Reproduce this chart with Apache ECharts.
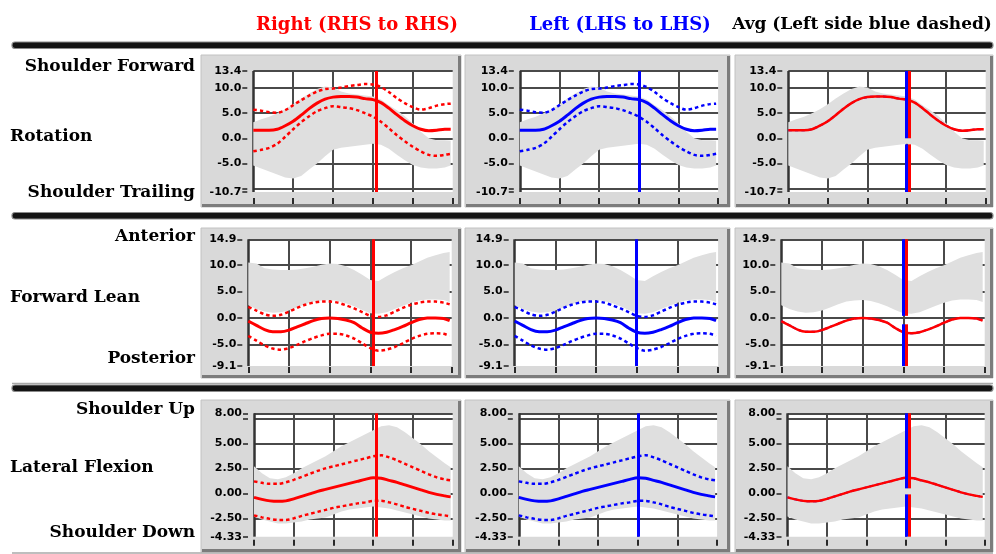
<!DOCTYPE html>
<html>
<head>
<meta charset="utf-8">
<script src="https://cdn.jsdelivr.net/npm/echarts@6/dist/echarts.min.js"></script>
<style>
html, body { margin: 0; padding: 0; background: #fff; }
#chart { width: 996px; height: 554px; }
</style>
</head>
<body>
<div id="chart"></div>
<script>
// Percent of swing cycle at which every trace is sampled
const pct = [0,4,8,12,16,20,24,28,32,36,40,44,48,52,56,60,64,68,72,76,80,84,88,92,96,99];

// Shoulder rotation (deg): mean, +/- limits, normative band
const rotMean   = [1.6,1.6,1.6,1.8,2.5,3.4,4.6,5.9,7.0,7.8,8.2,8.3,8.3,8.2,7.9,7.7,7.1,6.0,4.7,3.5,2.5,1.8,1.5,1.6,1.8,1.8];
const rotUpper  = [5.7,5.5,5.2,5.1,5.6,6.6,7.6,8.5,9.3,9.8,9.9,10.1,10.4,10.6,10.8,10.7,10.2,9.2,8.0,7.0,6.2,5.7,6.0,6.5,6.8,6.9];
const rotLower  = [-2.6,-2.3,-1.9,-1.1,0.3,1.8,3.2,4.4,5.4,6.0,6.4,6.2,6.0,5.6,5.0,4.3,3.3,2.0,0.6,-0.6,-1.7,-2.6,-3.3,-3.5,-3.3,-3.1];
const rotBandHi = [3.2,3.8,4.3,5.0,5.8,6.8,7.9,8.9,9.8,10.3,10.1,9.3,8.9,8.7,8.5,8.3,7.7,6.6,5.6,4.4,3.0,1.3,0.0,-0.4,-0.4,-0.5];
const rotBandLo = [-5.4,-6.0,-6.6,-7.2,-7.8,-8.0,-7.5,-6.2,-5.0,-3.6,-2.3,-1.9,-1.7,-1.5,-1.3,-1.1,-1.3,-2.1,-3.3,-4.4,-5.3,-5.8,-6.0,-6.0,-5.8,-5.4];
const rotLabels = [-10.7,-5,0,5,10,13.4];
const rotGrid   = [-10,-5,0,5,10];

// Forward lean (deg)
const leanMean   = [-0.6,-1.4,-2.2,-2.6,-2.6,-2.3,-1.7,-1.1,-0.5,-0.1,0.0,-0.1,-0.4,-0.9,-1.9,-2.7,-2.9,-2.7,-2.2,-1.6,-0.9,-0.3,0.0,0.0,-0.1,-0.5];
const leanUpper  = [2.1,1.4,0.7,0.4,0.6,1.2,1.9,2.5,2.9,3.1,3.1,2.9,2.4,1.8,1.1,0.4,0.2,0.5,1.2,1.9,2.5,2.9,3.1,3.1,2.9,2.6];
const leanLower  = [-3.4,-4.3,-5.2,-5.8,-6.0,-5.7,-5.1,-4.4,-3.8,-3.3,-3.0,-3.0,-3.3,-3.9,-4.8,-5.7,-6.2,-6.0,-5.5,-4.8,-4.0,-3.4,-3.0,-2.9,-3.0,-3.4];
const leanBandHi = [10.5,10.3,9.4,9.2,9.1,9.1,9.2,9.4,9.7,10.1,10.3,10.2,9.8,9.1,8.2,7.2,7.0,7.9,8.7,9.4,10.0,10.7,11.4,11.9,12.3,12.5];
const leanBandLo = [2.4,1.7,1.2,1.0,1.1,1.4,2.0,2.6,3.1,3.3,3.4,3.2,2.8,2.2,1.5,0.9,0.8,1.1,1.7,2.3,2.9,3.3,3.5,3.5,3.4,3.0];
const leanLabels = [-9.1,-5,0,5,10,14.9];
const leanGrid   = [-5,0,5,10];

// Lateral flexion (deg)
const latMean   = [-0.4,-0.6,-0.75,-0.8,-0.75,-0.55,-0.3,-0.05,0.2,0.4,0.6,0.8,1.0,1.2,1.4,1.55,1.5,1.3,1.1,0.85,0.6,0.35,0.1,-0.1,-0.25,-0.35];
const latUpper  = [1.2,1.05,0.95,0.95,1.1,1.35,1.65,1.95,2.25,2.5,2.7,2.9,3.1,3.3,3.5,3.7,3.8,3.6,3.3,2.95,2.6,2.25,1.9,1.6,1.4,1.3];
const latLower  = [-2.2,-2.4,-2.55,-2.65,-2.65,-2.5,-2.25,-2.05,-1.85,-1.65,-1.45,-1.3,-1.15,-1.0,-0.9,-0.75,-0.75,-0.9,-1.1,-1.35,-1.55,-1.75,-1.95,-2.1,-2.2,-2.3];
const latBandHi = [2.7,2.0,1.5,1.4,1.6,2.0,2.5,2.9,3.3,3.7,4.2,4.7,5.1,5.5,5.9,6.3,6.7,6.8,6.6,6.1,5.5,4.9,4.2,3.6,3.0,2.6];
const latBandLo = [-2.3,-2.6,-2.8,-3.0,-3.0,-2.9,-2.8,-2.6,-2.5,-2.4,-2.1,-1.8,-1.6,-1.5,-1.4,-1.3,-1.4,-1.5,-1.7,-1.9,-2.1,-2.3,-2.5,-2.6,-2.7,-2.7];
const latLabels = [-4.33,-2.5,0,2.5,5,8];
const latGrid   = [-2.5,0,2.5,5,7.5];

// Impact events (% of cycle) for each side
const eventRight = 61.5;
const eventLeft = 60;
// Break in the averaged event markers [from, to]
const rotAvgGap  = [-1.2, 0.0];
const leanAvgGap = [-1.2, 0.4];
const latAvgGap  = [-0.1, 0.5];

const xTicks = [0,20,40,60,80,100];
const xGrid  = [20,40,60,80];

const headers = ['Right (RHS to RHS)', 'Left (LHS to LHS)', 'Avg (Left side blue dashed)'];
const headerColors = ['#ff0000', '#0000ff', '#000000'];
const topLabels = ['Shoulder Forward', 'Anterior', 'Shoulder Up'];
const midLabels = ['Rotation', 'Forward Lean', 'Lateral Flexion'];
const bottomLabels = ['Shoulder Trailing', 'Posterior', 'Shoulder Down'];

// ---- layout (pixels) ----
const panelX = [[201, 461], [465, 730], [735, 993]];
const panelY = [[55, 207], [228, 378], [400, 552]];
const plotTop = [71, 239.3, 413.3];
const plotBottom = [192, 366, 536.7];
const plotLeft = [[253.3, 519.8, 788.3], [248.3, 514.7, 781.3], [254, 518.8, 787.5]];
const plotRight = [[452.7, 718.1, 985.7], [451.7, 718.1, 984.7], [452.7, 717.1, 984.7]];
const xTickOffset = [6, 1, 3];
const headerX = [357, 620, 862];
const headerFont = ['bold 18px "DejaVu Serif"', 'bold 18px "DejaVu Serif"', 'bold 17px "DejaVu Serif"'];
const topLabelY = [67, 236.5, 410];
const midLabelY = [137, 298, 468];
const bottomLabelY = [193, 359, 533];
const barY = [42, 212.5, 385];
const thinLineY = [383.5, 553];

const rows = [
  { mean: rotMean, upper: rotUpper, lower: rotLower, hi: rotBandHi, lo: rotBandLo, labels: rotLabels, grid: rotGrid, dec: 1, gap: rotAvgGap },
  { mean: leanMean, upper: leanUpper, lower: leanLower, hi: leanBandHi, lo: leanBandLo, labels: leanLabels, grid: leanGrid, dec: 1, gap: leanAvgGap },
  { mean: latMean, upper: latUpper, lower: latLower, hi: latBandHi, lo: latBandLo, labels: latLabels, grid: latGrid, dec: 2, gap: latAvgGap }
];

const RED = '#ff0000', BLUE = '#0000ff';
const gridLineStyle = { color: '#4a4a4a', width: 2, type: 'solid' };

const grids = [], xAxes = [], yAxes = [], series = [];

function pts(arr) { return pct.map((x, k) => [x, arr[k]]); }

function lineSeries(i, arr, color, width, dashed, z, markLine) {
  const s = {
    type: 'line', xAxisIndex: i, yAxisIndex: i, data: pts(arr),
    symbol: 'none', showSymbol: false, smooth: 0.3, silent: true, z: z,
    lineStyle: { color: color, width: width, type: dashed ? [3.5, 3] : 'solid' }
  };
  if (markLine) s.markLine = markLine;
  return s;
}

function bandSeries(i, hi, lo) {
  return {
    type: 'custom', xAxisIndex: i, yAxisIndex: i, z: 2, silent: true,
    data: [[0, 0]],
    renderItem: function (params, api) {
      const top = pct.map((x, k) => api.coord([x, hi[k]]));
      const bottom = pct.map((x, k) => api.coord([x, lo[k]])).reverse();
      return { type: 'polygon', shape: { points: top.concat(bottom) }, style: { fill: '#dfdfdf' } };
    }
  };
}

function gridMarkLine(row, yMax) {
  const data = [];
  row.grid.forEach(v => data.push({ yAxis: v }));
  data.push({ yAxis: yMax });
  xGrid.forEach(v => data.push({ xAxis: v }));
  data.push({ xAxis: 0, lineStyle: { color: '#333', width: 2.5, type: 'solid' } });
  return { silent: true, z: 1, symbol: ['none', 'none'], label: { show: false },
           lineStyle: gridLineStyle, emphasis: { disabled: true }, data: data, animation: false };
}

function eventMarkLine(items) {
  return { silent: true, z: 6, symbol: ['none', 'none'], label: { show: false },
           emphasis: { disabled: true }, data: items, animation: false };
}

rows.forEach((row, r) => {
  const yMin = row.labels[0], yMax = row.labels[row.labels.length - 1];
  const tickVals = [yMin].concat(row.grid, [yMax]);
  for (let c = 0; c < 3; c++) {
    const i = r * 3 + c;
    const left = plotLeft[r][c];
    grids.push({ left: left, top: plotTop[r], width: plotRight[r][c] - left, height: plotBottom[r] - plotTop[r],
                 show: true, backgroundColor: '#ffffff', borderWidth: 0, containLabel: false });
    xAxes.push({ type: 'value', gridIndex: i, min: 0, max: 100, position: 'bottom', offset: xTickOffset[r],
                 axisLine: { show: false, onZero: false },
                 axisTick: { show: true, customValues: xTicks, length: 6, lineStyle: { color: '#2a2a2a', width: 2 } },
                 axisLabel: { show: false }, splitLine: { show: false } });
    yAxes.push({ type: 'value', gridIndex: i, min: yMin, max: yMax, position: 'left', offset: 6,
                 axisLine: { show: false, onZero: false },
                 axisTick: { show: true, customValues: tickVals, length: 5, lineStyle: { color: '#222', width: 1.5 } },
                 axisLabel: { customValues: row.labels, margin: 6, color: '#000', fontFamily: 'DejaVu Sans',
                              fontWeight: 'bold', fontSize: 11, formatter: v => Number(v).toFixed(row.dec) },
                 splitLine: { show: false } });

    series.push(bandSeries(i, row.hi, row.lo));
    const gm = gridMarkLine(row, yMax);
    if (c < 2) {
      const col = c === 0 ? RED : BLUE;
      const ev = c === 0 ? eventRight : eventLeft;
      series.push(lineSeries(i, row.upper, col, 2.5, true, 3,
        eventMarkLine([{ xAxis: ev, lineStyle: { color: col, width: 3, type: 'solid' } }])));
      series.push(lineSeries(i, row.lower, col, 2.5, true, 3));
      series.push(lineSeries(i, row.mean, col, 3, false, 4, gm));
    } else {
      // left-side mean (blue dashed) sits under the right-side mean
      const segs = [];
      [[eventLeft, BLUE], [eventRight, RED]].forEach(([ev, col]) => {
        const ls = { color: col, width: 3, type: 'solid' };
        segs.push([{ coord: [ev, yMax], lineStyle: ls }, { coord: [ev, row.gap[1]] }]);
        segs.push([{ coord: [ev, row.gap[0]], lineStyle: ls }, { coord: [ev, yMin] }]);
      });
      series.push(lineSeries(i, row.mean, BLUE, 2, true, 3, eventMarkLine(segs)));
      series.push(lineSeries(i, row.mean, RED, 2.5, false, 4, gm));
    }
  }
});

// Panels, separators and text
const graphics = [];
panelX.forEach(([x1, x2]) => {
  panelY.forEach(([y1, y2]) => {
    graphics.push({ type: 'rect', z: -10, silent: true, shape: { x: x1, y: y1, width: x2 - x1, height: y2 - y1 },
                    style: { fill: '#d9d9d9', stroke: '#c2c2c2', lineWidth: 1 } });
    graphics.push({ type: 'polyline', z: -9, silent: true,
                    shape: { points: [[x2 - 1.5, y1 + 1], [x2 - 1.5, y2 - 1.5], [x1 + 1, y2 - 1.5]] },
                    style: { stroke: '#7c7c7c', lineWidth: 3, fill: null } });
  });
});
barY.forEach(y => {
  graphics.push({ type: 'rect', z: -10, silent: true, shape: { x: 12, y: y, width: 981, height: 6.5, r: 3 },
                  style: { fill: '#141414', stroke: '#8a8a8a', lineWidth: 1.2 } });
});
thinLineY.forEach(y => {
  graphics.push({ type: 'line', z: -10, silent: true, shape: { x1: 12, y1: y, x2: 993, y2: y },
                  style: { stroke: '#a8a8a8', lineWidth: 1.5 } });
});
const serifBoldSm = 'bold 17px "DejaVu Serif"';
headers.forEach((t, c) => {
  graphics.push({ type: 'text', z: 100, silent: true, x: headerX[c], y: 25,
                  style: { text: t, fill: headerColors[c], font: headerFont[c],
                           textAlign: 'center', textVerticalAlign: 'middle', align: 'center', verticalAlign: 'middle' } });
});
for (let r = 0; r < 3; r++) {
  [[topLabels[r], topLabelY[r]], [bottomLabels[r], bottomLabelY[r]]].forEach(([t, y]) => {
    graphics.push({ type: 'text', z: 100, silent: true, x: 195, y: y,
                    style: { text: t, fill: '#000', font: serifBoldSm,
                             textAlign: 'right', textVerticalAlign: 'middle', align: 'right', verticalAlign: 'middle' } });
  });
  graphics.push({ type: 'text', z: 100, silent: true, x: 10, y: midLabelY[r],
                  style: { text: midLabels[r], fill: '#000', font: serifBoldSm,
                           textAlign: 'left', textVerticalAlign: 'middle', align: 'left', verticalAlign: 'middle' } });
}

const chart = echarts.init(document.getElementById('chart'), null, { renderer: 'canvas' });
chart.setOption({
  animation: false,
  backgroundColor: '#ffffff',
  graphic: { elements: graphics },
  grid: grids,
  xAxis: xAxes,
  yAxis: yAxes,
  series: series
});
</script>
</body>
</html>
